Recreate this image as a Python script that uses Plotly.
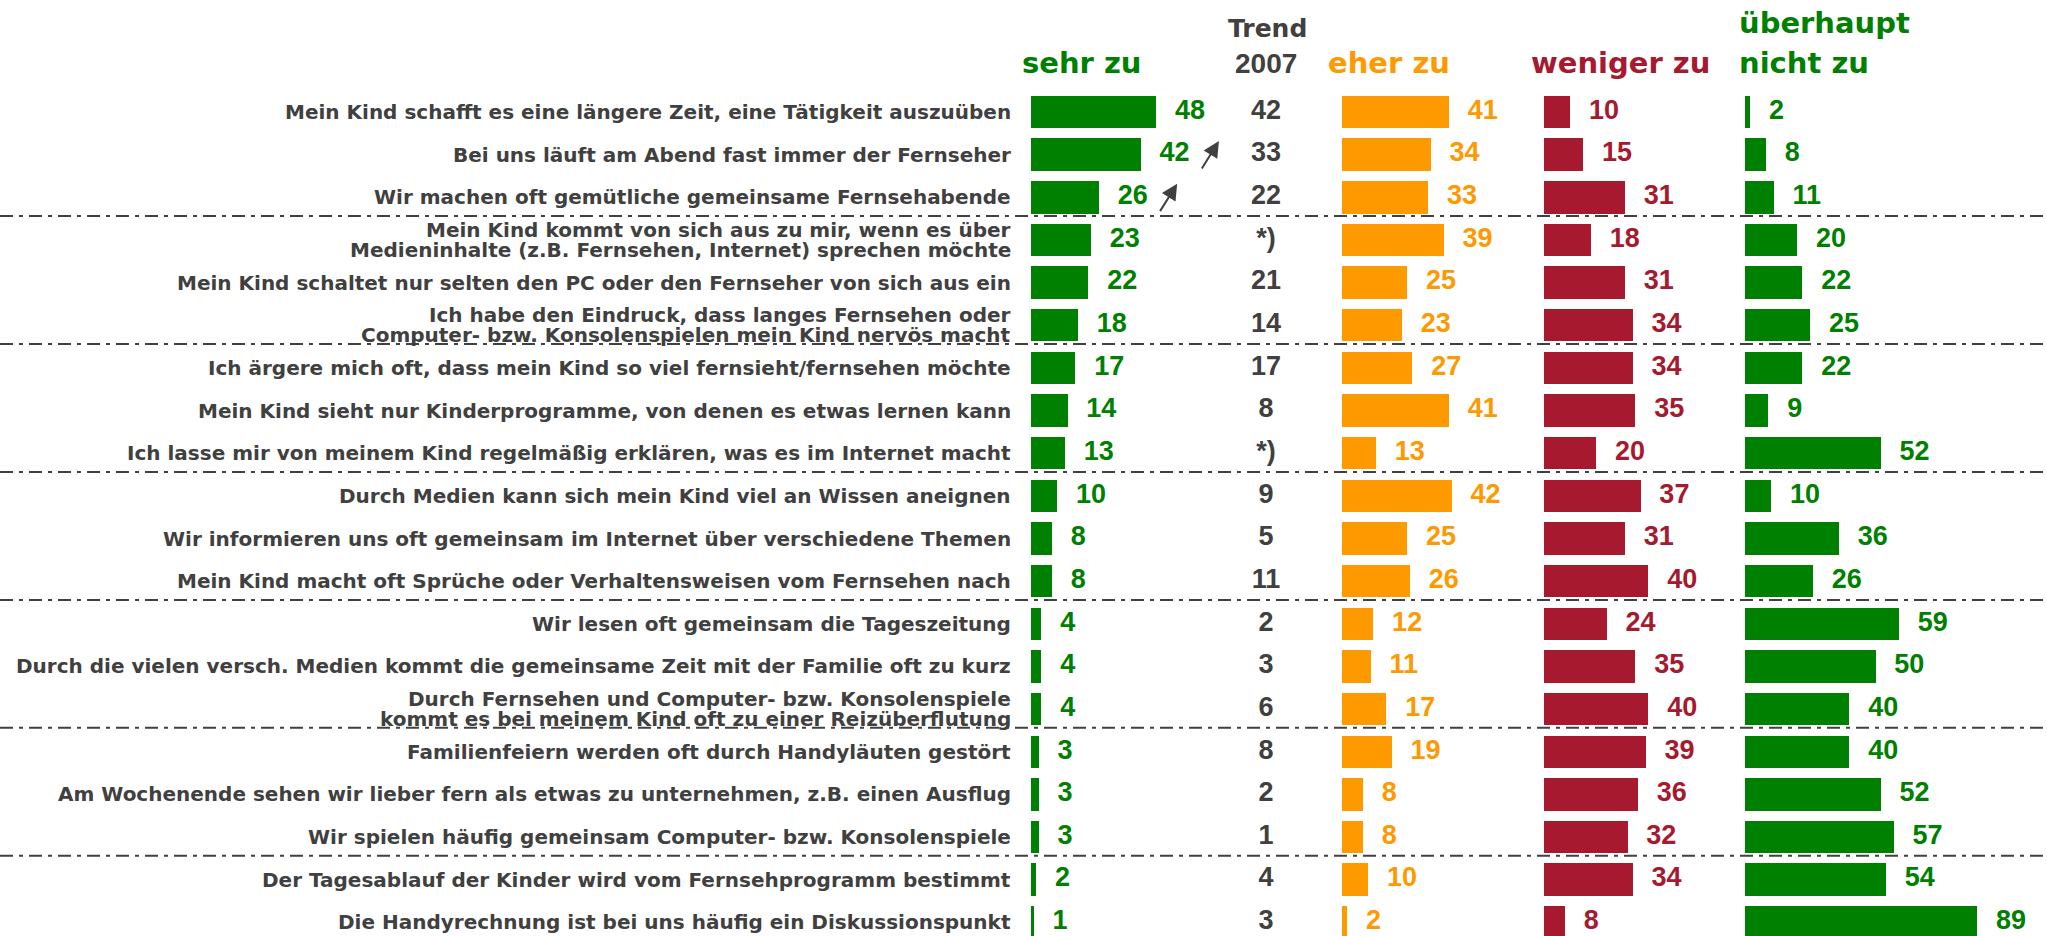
import plotly.graph_objects as go

# ---------------- data ----------------
categories = [
    "Mein Kind schafft es eine längere Zeit, eine Tätigkeit auszuüben",
    "Bei uns läuft am Abend fast immer der Fernseher",
    "Wir machen oft gemütliche gemeinsame Fernsehabende",
    "Mein Kind kommt von sich aus zu mir, wenn es über\nMedieninhalte (z.B. Fernsehen, Internet) sprechen möchte",
    "Mein Kind schaltet nur selten den PC oder den Fernseher von sich aus ein",
    "Ich habe den Eindruck, dass langes Fernsehen oder\nComputer- bzw. Konsolenspielen mein Kind nervös macht",
    "Ich ärgere mich oft, dass mein Kind so viel fernsieht/fernsehen möchte",
    "Mein Kind sieht nur Kinderprogramme, von denen es etwas lernen kann",
    "Ich lasse mir von meinem Kind regelmäßig erklären, was es im Internet macht",
    "Durch Medien kann sich mein Kind viel an Wissen aneignen",
    "Wir informieren uns oft gemeinsam im Internet über verschiedene Themen",
    "Mein Kind macht oft Sprüche oder Verhaltensweisen vom Fernsehen nach",
    "Wir lesen oft gemeinsam die Tageszeitung",
    "Durch die vielen versch. Medien kommt die gemeinsame Zeit mit der Familie oft zu kurz",
    "Durch Fernsehen und Computer- bzw. Konsolenspiele\nkommt es bei meinem Kind oft zu einer Reizüberflutung",
    "Familienfeiern werden oft durch Handyläuten gestört",
    "Am Wochenende sehen wir lieber fern als etwas zu unternehmen, z.B. einen Ausflug",
    "Wir spielen häufig gemeinsam Computer- bzw. Konsolenspiele",
    "Der Tagesablauf der Kinder wird vom Fernsehprogramm bestimmt",
    "Die Handyrechnung ist bei uns häufig ein Diskussionspunkt",
]
sehr_zu = [48, 42, 26, 23, 22, 18, 17, 14, 13, 10, 8, 8, 4, 4, 4, 3, 3, 3, 2, 1]
trend_2007 = ["42", "33", "22", "*)", "21", "14", "17", "8", "*)", "9", "5", "11",
              "2", "3", "6", "8", "2", "1", "4", "3"]
eher_zu = [41, 34, 33, 39, 25, 23, 27, 41, 13, 42, 25, 26, 12, 11, 17, 19, 8, 8, 10, 2]
weniger_zu = [10, 15, 31, 18, 31, 34, 34, 35, 20, 37, 31, 40, 24, 35, 40, 39, 36, 32, 34, 8]
ueberhaupt_nicht_zu = [2, 8, 11, 20, 22, 25, 22, 9, 52, 10, 36, 26, 59, 50, 40, 40, 52, 57, 54, 89]
trend_up = [False, True, True] + [False] * 17
group_ends = [3, 6, 9, 12, 15, 18]

headers = ["sehr zu", "eher zu", "weniger zu", "überhaupt\nnicht zu"]
trend_header = ["Trend", "2007"]

# ---------------- style ----------------
W, H = 2047, 936
GREEN = "#008000"
ORANGE = "#FF9900"
CRIMSON = "#A6192E"
GRAY = "#404040"
PX_PER_UNIT = 2.61
ROW0 = 112.0
ROWH = 42.65
TXT_FONT = "DejaVu Sans"
NUM_FONT = "Liberation Sans"


def px_x(px):
    return px / W


def px_y(px):
    return 1 - px / H


rows = list(range(len(categories)))
panels = [
    (sehr_zu, GREEN, 1031),
    (eher_zu, ORANGE, 1342),
    (weniger_zu, CRIMSON, 1544),
    (ueberhaupt_nicht_zu, GREEN, 1745),
]
LABEL_PAD = 7.2  # data units between bar end and value label

fig = go.Figure()
layout_axes = {}
for k, (vals, col, start) in enumerate(panels):
    n = k + 1
    xa = "x" if n == 1 else f"x{n}"
    fig.add_trace(go.Bar(
        x=vals, y=rows, orientation="h", width=0.76,
        marker=dict(color=col, line=dict(width=0)),
        xaxis=xa, yaxis="y", hoverinfo="skip", showlegend=False))
    fig.add_trace(go.Scatter(
        x=[v + LABEL_PAD for v in vals], y=rows, mode="text",
        text=[str(v) for v in vals], textposition="middle right",
        textfont=dict(family=NUM_FONT, size=27, color=col, weight="bold"),
        xaxis=xa, yaxis="y", cliponaxis=False, hoverinfo="skip", showlegend=False))
    layout_axes["xaxis" if n == 1 else f"xaxis{n}"] = dict(
        domain=[px_x(start), px_x(start + 100 * PX_PER_UNIT)], range=[0, 100],
        visible=False, anchor="y", fixedrange=True)

# trend column
fig.add_trace(go.Scatter(
    x=[0.5] * len(rows), y=rows, mode="text", text=trend_2007,
    textposition="middle center",
    textfont=dict(family=NUM_FONT, size=27, color=GRAY, weight="bold"),
    xaxis="x5", yaxis="y", cliponaxis=False, hoverinfo="skip", showlegend=False))
layout_axes["xaxis5"] = dict(domain=[px_x(1216), px_x(1316)], range=[0, 1],
                             visible=False, anchor="y", fixedrange=True)

annotations = []
# category labels
for i, lab in enumerate(categories):
    parts = lab.split("\n")
    shifts = [0] if len(parts) == 1 else [10, -10]
    for part, sh in zip(parts, shifts):
        annotations.append(dict(
            text=part, xref="paper", yref="y", x=px_x(1013), y=i,
            xanchor="right", yanchor="middle", yshift=sh, showarrow=False,
            font=dict(family=TXT_FONT, size=20, color=GRAY, weight="bold")))

# trend arrows
for i, up in enumerate(trend_up):
    if up:
        annotations.append(dict(
            text="", xref="x", yref="y", x=sehr_zu[i] + 30, y=i - 0.32,
            ax=-18, ay=29, showarrow=True, arrowhead=2, arrowsize=1.6,
            arrowwidth=2, arrowcolor=GRAY, standoff=0, startstandoff=0))

# headers
hdr_font = dict(family=TXT_FONT, size=29, weight="bold")
hdr_specs = [
    (headers[0], GREEN, 1082, "center"),
    (headers[1], ORANGE, 1389, "center"),
    (headers[2], CRIMSON, 1620, "center"),
]
for txt, col, cx, anc in hdr_specs:
    annotations.append(dict(text=txt, xref="paper", yref="paper", x=px_x(cx),
                            y=px_y(63), xanchor=anc, yanchor="middle", showarrow=False,
                            font=dict(hdr_font, color=col)))
l1, l2 = headers[3].split("\n")
annotations.append(dict(text=l1, xref="paper", yref="paper", x=px_x(1737),
                        y=px_y(23), xanchor="left", yanchor="middle", showarrow=False,
                        font=dict(hdr_font, color=GREEN)))
annotations.append(dict(text=l2, xref="paper", yref="paper", x=px_x(1737),
                        y=px_y(63), xanchor="left", yanchor="middle", showarrow=False,
                        font=dict(hdr_font, color=GREEN)))
annotations.append(dict(text=trend_header[0], xref="paper", yref="paper", x=px_x(1267),
                        y=px_y(28), xanchor="center", yanchor="middle", showarrow=False,
                        font=dict(family=TXT_FONT, size=25, color=GRAY, weight="bold")))
annotations.append(dict(text=trend_header[1], xref="paper", yref="paper", x=px_x(1266),
                        y=px_y(64), xanchor="center", yanchor="middle", showarrow=False,
                        font=dict(family=NUM_FONT, size=28, color=GRAY, weight="bold")))

# group separators
shapes = []
for g in group_ends:
    shapes.append(dict(type="line", xref="paper", yref="y", x0=0, x1=1,
                       y0=g - 1 + 0.44, y1=g - 1 + 0.44,
                       line=dict(color=GRAY, width=2, dash="13px,6px,4px,6px")))

y_top = -ROW0 / ROWH
y_bot = (H - ROW0) / ROWH
fig.update_layout(
    width=W, height=H, margin=dict(l=0, r=0, t=0, b=0),
    paper_bgcolor="white", plot_bgcolor="rgba(0,0,0,0)",
    yaxis=dict(range=[y_bot, y_top], visible=False, fixedrange=True, domain=[0, 1]),
    annotations=annotations, shapes=shapes, showlegend=False, bargap=0,
    **layout_axes)

fig.write_html("out.html", config={"displayModeBar": False},
               post_script="document.body.style.margin='0';document.body.style.overflow='hidden';")
